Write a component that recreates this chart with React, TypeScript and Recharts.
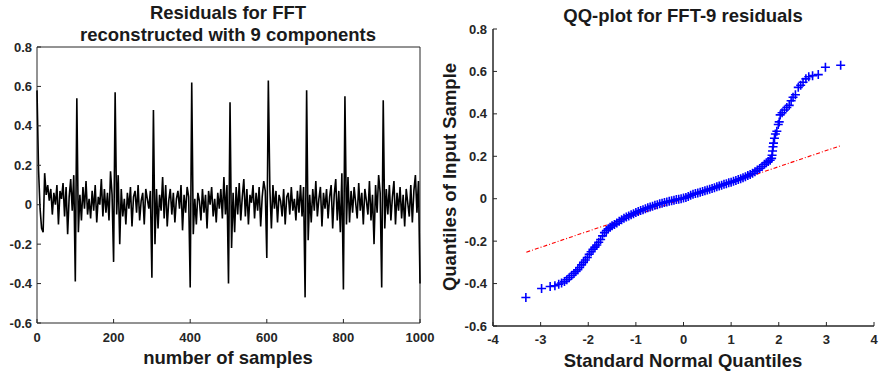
import { LineChart, Line, XAxis, YAxis, ReferenceLine } from 'recharts';

// residual values, one every 4 samples (0..1000)
const residual = [
  0.58, 0.18, -0.02, -0.12, -0.14, 0.16, 0.05, 0.10, 0.02, 0.08, -0.05, 0.06, 0.00, 0.10, -0.10, 0.07, 0.03, 0.11, -0.06, 0.09, -0.15, 0.04, 0.13, -0.03, 0.15,
  -0.39, 0.54, -0.14, 0.05, -0.08, 0.09, -0.02, 0.12, -0.05, 0.03, -0.07, 0.07, -0.03, 0.10, -0.09, 0.04, 0.00, 0.13, -0.06, 0.08, -0.04, 0.06, -0.08, 0.17, 0.05,
  -0.29, 0.57, -0.05, 0.15, -0.20, 0.08, -0.06, 0.03, -0.10, 0.06, -0.02, 0.09, -0.11, 0.04, 0.07, -0.04, 0.10, -0.08, 0.02, 0.06, -0.10, 0.08, 0.03, -0.02, 0.07,
  -0.37, 0.48, -0.20, 0.08, -0.12, 0.05, -0.03, 0.14, -0.07, 0.10, -0.11, 0.02, 0.08, -0.05, 0.06, -0.09, 0.03, 0.07, -0.02, 0.10, -0.13, 0.05, -0.04, 0.09, 0.04,
  -0.42, 0.62, -0.15, 0.03, -0.10, 0.06, 0.02, -0.08, 0.08, -0.04, 0.05, -0.12, 0.07, 0.00, 0.09, -0.06, 0.03, -0.09, 0.06, -0.02, 0.08, -0.07, 0.14, -0.05, 0.10,
  -0.40, 0.52, -0.22, 0.06, -0.14, 0.09, -0.05, 0.11, -0.08, 0.04, 0.13, -0.06, 0.08, -0.10, 0.05, 0.01, 0.10, -0.07, 0.06, -0.03, 0.09, -0.11, 0.04, 0.12, 0.07,
  -0.27, 0.63, 0.08, -0.12, 0.10, -0.02, 0.07, -0.09, 0.05, 0.02, -0.06, 0.08, -0.10, 0.04, 0.06, -0.05, 0.09, -0.03, 0.03, -0.08, 0.07, -0.04, 0.10, -0.06, 0.09,
  -0.47, 0.58, -0.18, 0.05, -0.09, 0.08, -0.03, 0.12, -0.06, 0.03, 0.09, -0.11, 0.06, -0.02, 0.08, -0.07, 0.04, 0.10, -0.12, 0.05, 0.13, -0.08, 0.07, -0.14, 0.16,
  -0.43, 0.55, -0.10, 0.14, -0.09, 0.07, -0.04, 0.09, 0.01, -0.07, 0.11, -0.03, 0.06, -0.10, 0.08, 0.02, -0.05, 0.12, -0.08, 0.05, -0.20, 0.10, -0.04, 0.15, 0.06,
  -0.42, 0.53, -0.12, 0.08, -0.05, 0.10, -0.08, 0.04, 0.12, -0.10, 0.06, -0.03, 0.09, -0.07, 0.05, -0.11, 0.08, 0.01, -0.06, 0.10, -0.09, 0.07, 0.15, -0.04, 0.12, -0.40,
];
const SAMPLE_STEP = 4;
const sampleTicks = [0, 200, 400, 600, 800, 1000];
const residTicks = [-0.6, -0.4, -0.2, 0, 0.2, 0.4, 0.6, 0.8];

// qq plot: theoretical normal quantile vs sample quantile
const qqTheo = [
  -3.31, -2.98, -2.8, -2.7, -2.62, -2.56, -2.5, -2.45, -2.4, -2.35, -2.3, -2.26, -2.22, -2.18, -2.14, -2.1, -2.06, -2.02, -1.98, -1.94,
  -1.9, -1.86, -1.82, -1.78, -1.74, -1.7, -1.66, -1.62, -1.58, -1.54, -1.5, -1.45, -1.4, -1.35, -1.3, -1.25, -1.2, -1.15, -1.1, -1.05,
  -1.0, -0.95, -0.9, -0.85, -0.8, -0.75, -0.7, -0.65, -0.6, -0.55, -0.5, -0.45, -0.4, -0.35, -0.3, -0.25, -0.2, -0.15, -0.1, -0.05,
  0, 0.05, 0.1, 0.15, 0.2, 0.25, 0.3, 0.35, 0.4, 0.45, 0.5, 0.55, 0.6, 0.65, 0.7, 0.75, 0.8, 0.85, 0.9, 0.95,
  1.0, 1.05, 1.1, 1.15, 1.2, 1.25, 1.3, 1.35, 1.4, 1.45, 1.5, 1.55, 1.6, 1.65, 1.7, 1.74, 1.78, 1.82, 1.85, 1.86,
  1.87, 1.88, 1.89, 1.91, 1.93, 1.96, 1.99, 2.01, 2.03, 2.07, 2.12, 2.17, 2.22, 2.26, 2.3, 2.35, 2.41, 2.46, 2.51, 2.57,
  2.63, 2.71, 2.83, 2.98, 3.3,
];
const qqSample = [
  -0.466, -0.423, -0.414, -0.41, -0.403, -0.397, -0.39, -0.382, -0.372, -0.362, -0.352, -0.343, -0.335, -0.324, -0.312, -0.3, -0.289, -0.277, -0.262, -0.25,
  -0.238, -0.228, -0.218, -0.205, -0.192, -0.175, -0.16, -0.15, -0.142, -0.135, -0.128, -0.121, -0.115, -0.106, -0.099, -0.092, -0.086, -0.081, -0.076, -0.071,
  -0.065, -0.06, -0.056, -0.052, -0.047, -0.043, -0.039, -0.035, -0.031, -0.028, -0.024, -0.021, -0.018, -0.015, -0.012, -0.01, -0.007, -0.004, -0.002, 0.0,
  0.003, 0.006, 0.011, 0.016, 0.021, 0.024, 0.027, 0.03, 0.034, 0.037, 0.041, 0.045, 0.048, 0.052, 0.056, 0.06, 0.064, 0.068, 0.071, 0.075,
  0.078, 0.082, 0.086, 0.09, 0.094, 0.099, 0.104, 0.109, 0.114, 0.12, 0.127, 0.135, 0.143, 0.152, 0.162, 0.17, 0.176, 0.181, 0.19, 0.205,
  0.225, 0.245, 0.262, 0.285, 0.305, 0.318, 0.35, 0.362, 0.395, 0.405, 0.418, 0.43, 0.44, 0.462, 0.478, 0.49, 0.525, 0.535, 0.549, 0.565,
  0.575, 0.58, 0.585, 0.62, 0.629,
];
const fitLineX = [-3.3, 3.3];
const fitLineY = [-0.252, 0.25];
const qqXTicks = [-4, -3, -2, -1, 0, 1, 2, 3, 4];
const qqXDomain = [-4, 4];
const qqYDomain = [-0.6, 0.8];

const FONT = '"Liberation Sans", Arial, Helvetica, sans-serif';
const AXIS = '#262626';
const TICK_LEN = 4;

// qq chart box
const QQ_W = 439;
const QQ_H = 375;
const QQ_MARGIN = { top: 29, right: 5, bottom: 0, left: 0 };
const QQ_YAXIS_W = 53;
const QQ_XAXIS_H = 49;
const QQ_PLOT_W = QQ_W - QQ_YAXIS_W - QQ_MARGIN.right;
const QQ_PLOT_H = QQ_H - QQ_MARGIN.top - QQ_XAXIS_H;

const residData = residual.map((r, i) => ({ n: i * SAMPLE_STEP, r }));
const qqData = qqTheo.map((x, i) => ({ x, y: qqSample[i] }));
const fitData = fitLineX.map((x, i) => ({ x, y: fitLineY[i] }));

// tick label + inward tick mark (MATLAB style); axisLen draws the axis line from the first tick
const AxisTick = (props: any) => {
  const { x, y, payload, side, m = 0, label, index, axisLen } = props;
  let line = null;
  let text = null;
  let axis = null;
  const txt = { fill: AXIS, fontSize: 13, fontWeight: 700, fontFamily: FONT };
  if (side === 'bottom') {
    const ay = y - m;
    line = <line x1={x} x2={x} y1={ay} y2={ay - TICK_LEN} stroke={AXIS} />;
    if (axisLen && index === 0) axis = <line x1={x} x2={x + axisLen} y1={ay} y2={ay} stroke={AXIS} strokeWidth={1} />;
    if (label) text = <text x={x} y={y} dy="0.71em" textAnchor="middle" {...txt}>{payload.value}</text>;
  } else if (side === 'left') {
    const ax = x + m;
    line = <line x1={ax} x2={ax + TICK_LEN} y1={y} y2={y} stroke={AXIS} />;
    if (axisLen && index === 0) axis = <line x1={ax} x2={ax} y1={y} y2={y - axisLen} stroke={AXIS} strokeWidth={1} />;
    if (label) text = <text x={x} y={y} dy="0.355em" textAnchor="end" {...txt}>{payload.value}</text>;
  } else if (side === 'top') {
    line = <line x1={x} x2={x} y1={y} y2={y + TICK_LEN} stroke={AXIS} />;
  } else {
    line = <line x1={x - TICK_LEN} x2={x} y1={y} y2={y} stroke={AXIS} />;
  }
  return <g>{axis}{line}{text}</g>;
};

const Plus = (props: any) => {
  const { cx, cy } = props;
  if (cx == null || cy == null) return null;
  return <path key={`p${cx}-${cy}`} d={`M${cx - 4.5},${cy}h9M${cx},${cy - 4.5}v9`} stroke="#0000ff" strokeWidth={1.6} fill="none" />;
};

const Txt = ({ x, y, size, children, rotate }: any) => (
  <div
    style={{
      position: 'absolute', left: x, top: y, whiteSpace: 'nowrap', fontSize: size, fontWeight: 'bold',
      color: '#1a1a1a', lineHeight: 1, transform: `translate(-50%, -50%)${rotate ? ' rotate(-90deg)' : ''}`,
    }}
  >
    {children}
  </div>
);

export default function App() {
  return (
    <div style={{ position: 'absolute', left: 0, top: 0, width: 879, height: 375, background: '#fff', fontFamily: FONT, overflow: 'hidden' }}>
      <div style={{ position: 'absolute', left: 0, top: 0 }}>
        <LineChart width={440} height={375} data={residData} margin={{ top: 47, right: 20, bottom: 0, left: 0 }}>
          <XAxis dataKey="n" type="number" domain={[0, 1000]} ticks={sampleTicks} height={52} interval={0}
            axisLine={false} tickLine={false} tickSize={0} tickMargin={10} tick={<AxisTick side="bottom" m={10} label />} />
          <XAxis xAxisId="top" dataKey="n" orientation="top" type="number" domain={[0, 1000]} ticks={sampleTicks} height={0} interval={0}
            axisLine={false} tickLine={false} tickSize={0} tickMargin={0} tick={<AxisTick side="top" />} />
          <YAxis type="number" domain={[-0.6, 0.8]} ticks={residTicks} width={37} interval={0}
            axisLine={false} tickLine={false} tickSize={0} tickMargin={5} tick={<AxisTick side="left" m={5} label />} />
          <YAxis yAxisId="right" orientation="right" type="number" domain={[-0.6, 0.8]} ticks={residTicks} width={0} interval={0}
            axisLine={false} tickLine={false} tickSize={0} tickMargin={0} tick={<AxisTick side="right" />} />
          <ReferenceLine x={0} stroke={AXIS} ifOverflow="visible" />
          <ReferenceLine x={1000} stroke={AXIS} ifOverflow="visible" />
          <ReferenceLine y={-0.6} stroke={AXIS} ifOverflow="visible" />
          <ReferenceLine y={0.8} stroke={AXIS} ifOverflow="visible" />
          <Line dataKey="r" stroke="#000" strokeWidth={1.6} dot={false} isAnimationActive={false} />
          <Line xAxisId="top" yAxisId="right" dataKey="r" stroke="none" dot={false} isAnimationActive={false} />
        </LineChart>
      </div>
      <div style={{ position: 'absolute', left: 440, top: 0 }}>
        <LineChart width={QQ_W} height={QQ_H} data={qqData} margin={QQ_MARGIN}>
          <XAxis dataKey="x" type="number" domain={qqXDomain} ticks={qqXTicks} height={QQ_XAXIS_H} interval={0}
            axisLine={false} tickLine={false} tickSize={0} tickMargin={9}
            tick={<AxisTick side="bottom" m={9} label axisLen={QQ_PLOT_W} />} />
          <YAxis type="number" domain={qqYDomain} ticks={residTicks} width={QQ_YAXIS_W} interval={0}
            axisLine={false} tickLine={false} tickSize={0} tickMargin={6}
            tick={<AxisTick side="left" m={6} label axisLen={QQ_PLOT_H} />} />
          <ReferenceLine x={qqXDomain[0]} stroke={AXIS} ifOverflow="visible" />
          <ReferenceLine y={qqYDomain[0]} stroke={AXIS} ifOverflow="visible" />
          <Line data={fitData} dataKey="y" stroke="#ff0000" strokeWidth={1.1} strokeDasharray="4 2 1 2" dot={false} activeDot={false} isAnimationActive={false} />
          <Line dataKey="y" stroke="none" dot={<Plus />} activeDot={false} isAnimationActive={false} />
        </LineChart>
      </div>
      <Txt x={228} y={13} size={18.5}>Residuals for FFT</Txt>
      <Txt x={228} y={35} size={18.5}>reconstructed with 9 components</Txt>
      <Txt x={228} y={358} size={18.5}>number of samples</Txt>
      <Txt x={683} y={16} size={18.5}>QQ-plot for FFT-9 residuals</Txt>
      <Txt x={683} y={361} size={18.5}>Standard Normal Quantiles</Txt>
      <Txt x={450} y={177} size={18.5} rotate>Quantiles of Input Sample</Txt>
    </div>
  );
}
